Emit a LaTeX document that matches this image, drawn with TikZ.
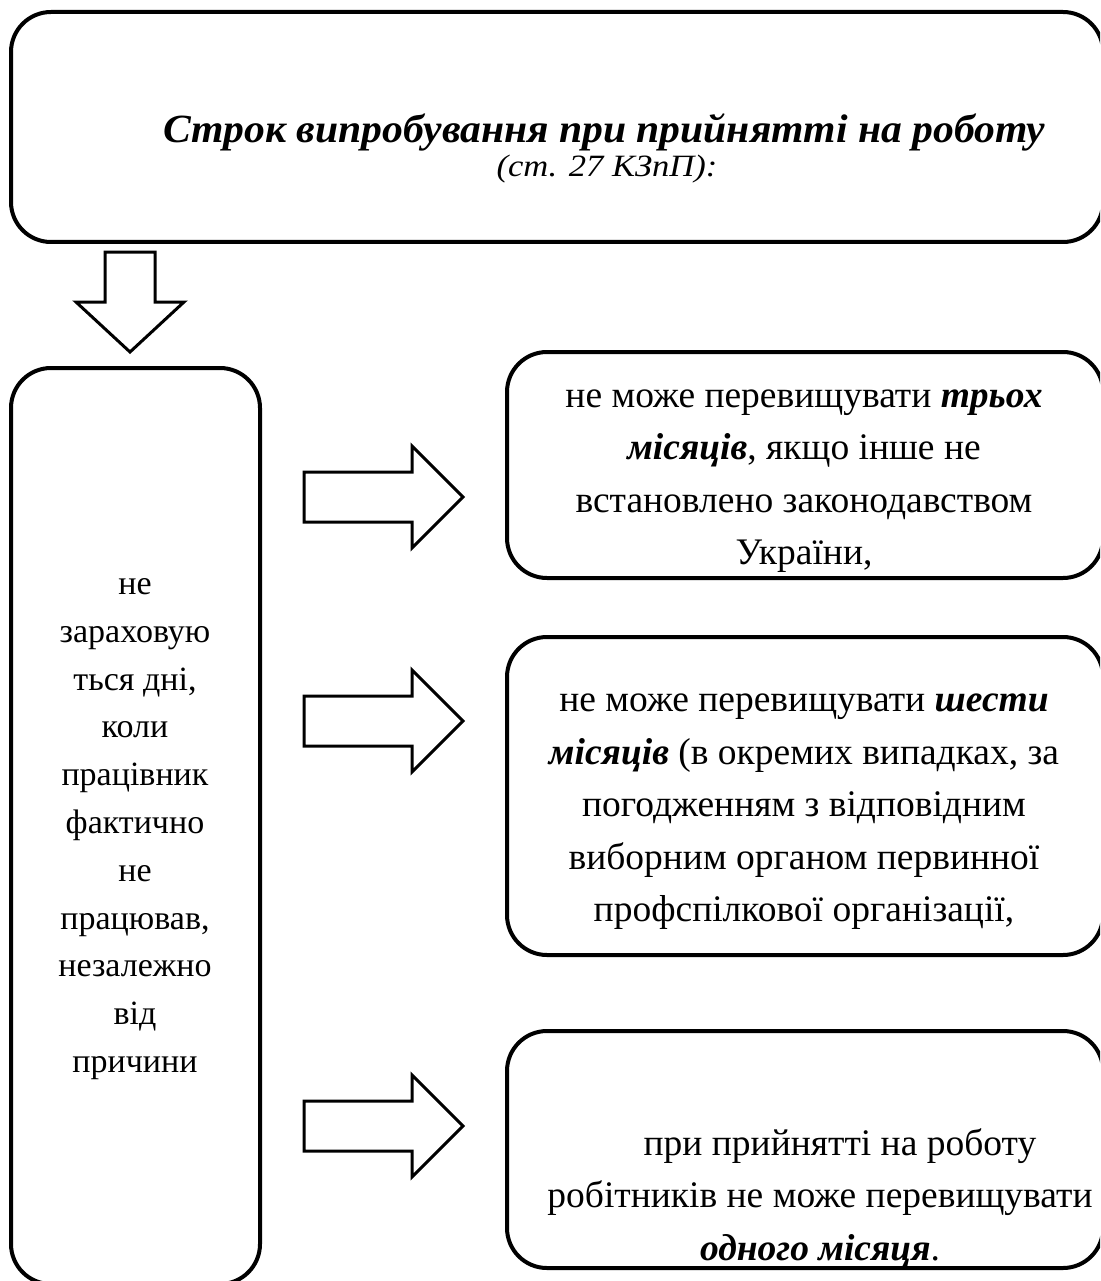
\documentclass[tikz,border=0pt]{standalone}
\usepackage{fontspec}
\usepackage{graphicx}
\setmainfont{Liberation Serif}
\begin{document}
\begin{tikzpicture}[x=1pt,y=-1pt,
  box/.style={draw=black,line width=4pt,rounded corners=40pt},
  blockarrow/.style={draw=black,line width=3pt,fill=white,line join=miter},
  body/.style={align=center,inner sep=0pt,font=\fontsize{37.5}{52.5}\selectfont},
  leftbody/.style={align=center,inner sep=0pt,font=\fontsize{34}{47.8}\selectfont}]
\useasboundingbox (0,0) rectangle (1100,1281);
\clip (0,0) rectangle (1100,1281);
% boxes
\draw[box] (11,12) rectangle (1103,242);
\draw[box] (11,368) rectangle (260,1284);
\draw[box] (507,352) rectangle (1103,578);
\draw[box] (507,637) rectangle (1103,955);
\draw[box] (507,1031) rectangle (1103,1268);
% title
\node[inner sep=0pt,anchor=base,font=\fontsize{40}{40}\bfseries\itshape\selectfont] (title) at (604,143) {\resizebox{882pt}{\height}{Строк випробування при прийнятті на роботу}};
\node[inner sep=0pt,anchor=base,font=\fontsize{31}{31}\itshape\selectfont] (sub) at (607,177) {\resizebox{221pt}{\height}{(ст. 27 КЗпП):}};
% down arrow
\draw[blockarrow] (105,252) -- (155,252) -- (155,302) -- (184,302) -- (130,352) -- (76,302) -- (105,302) -- cycle;
% right arrows
\foreach \yc in {497,721,1126} {
  \draw[blockarrow] (304,\yc-25) -- (412,\yc-25) -- (412,\yc-51) -- (463,\yc) -- (412,\yc+51) -- (412,\yc+25) -- (304,\yc+25) -- cycle;
}
% texts
\node[leftbody] (lefttext) at (135,829) {не\\зараховую\\ться дні,\\коли\\працівник\\фактично\\не\\працював,\\незалежно\\від\\причини};
\node[body] (t1) at (804,481) {не може перевищувати \textbf{\textit{трьох}}\\\textbf{\textit{місяців}}, якщо інше не\\встановлено законодавством\\України,};
\node[body] (t2) at (804,812) {не може перевищувати \textbf{\textit{шести}}\\\textbf{\textit{місяців}} (в окремих випадках, за\\погодженням з відповідним\\виборним органом первинної\\профспілкової організації,};
\node[body] (t3) at (820,1198) {\hspace*{40pt}при прийнятті на роботу\\робітників не може перевищувати\\\textbf{\textit{одного місяця}}.};
\end{tikzpicture}
\end{document}
